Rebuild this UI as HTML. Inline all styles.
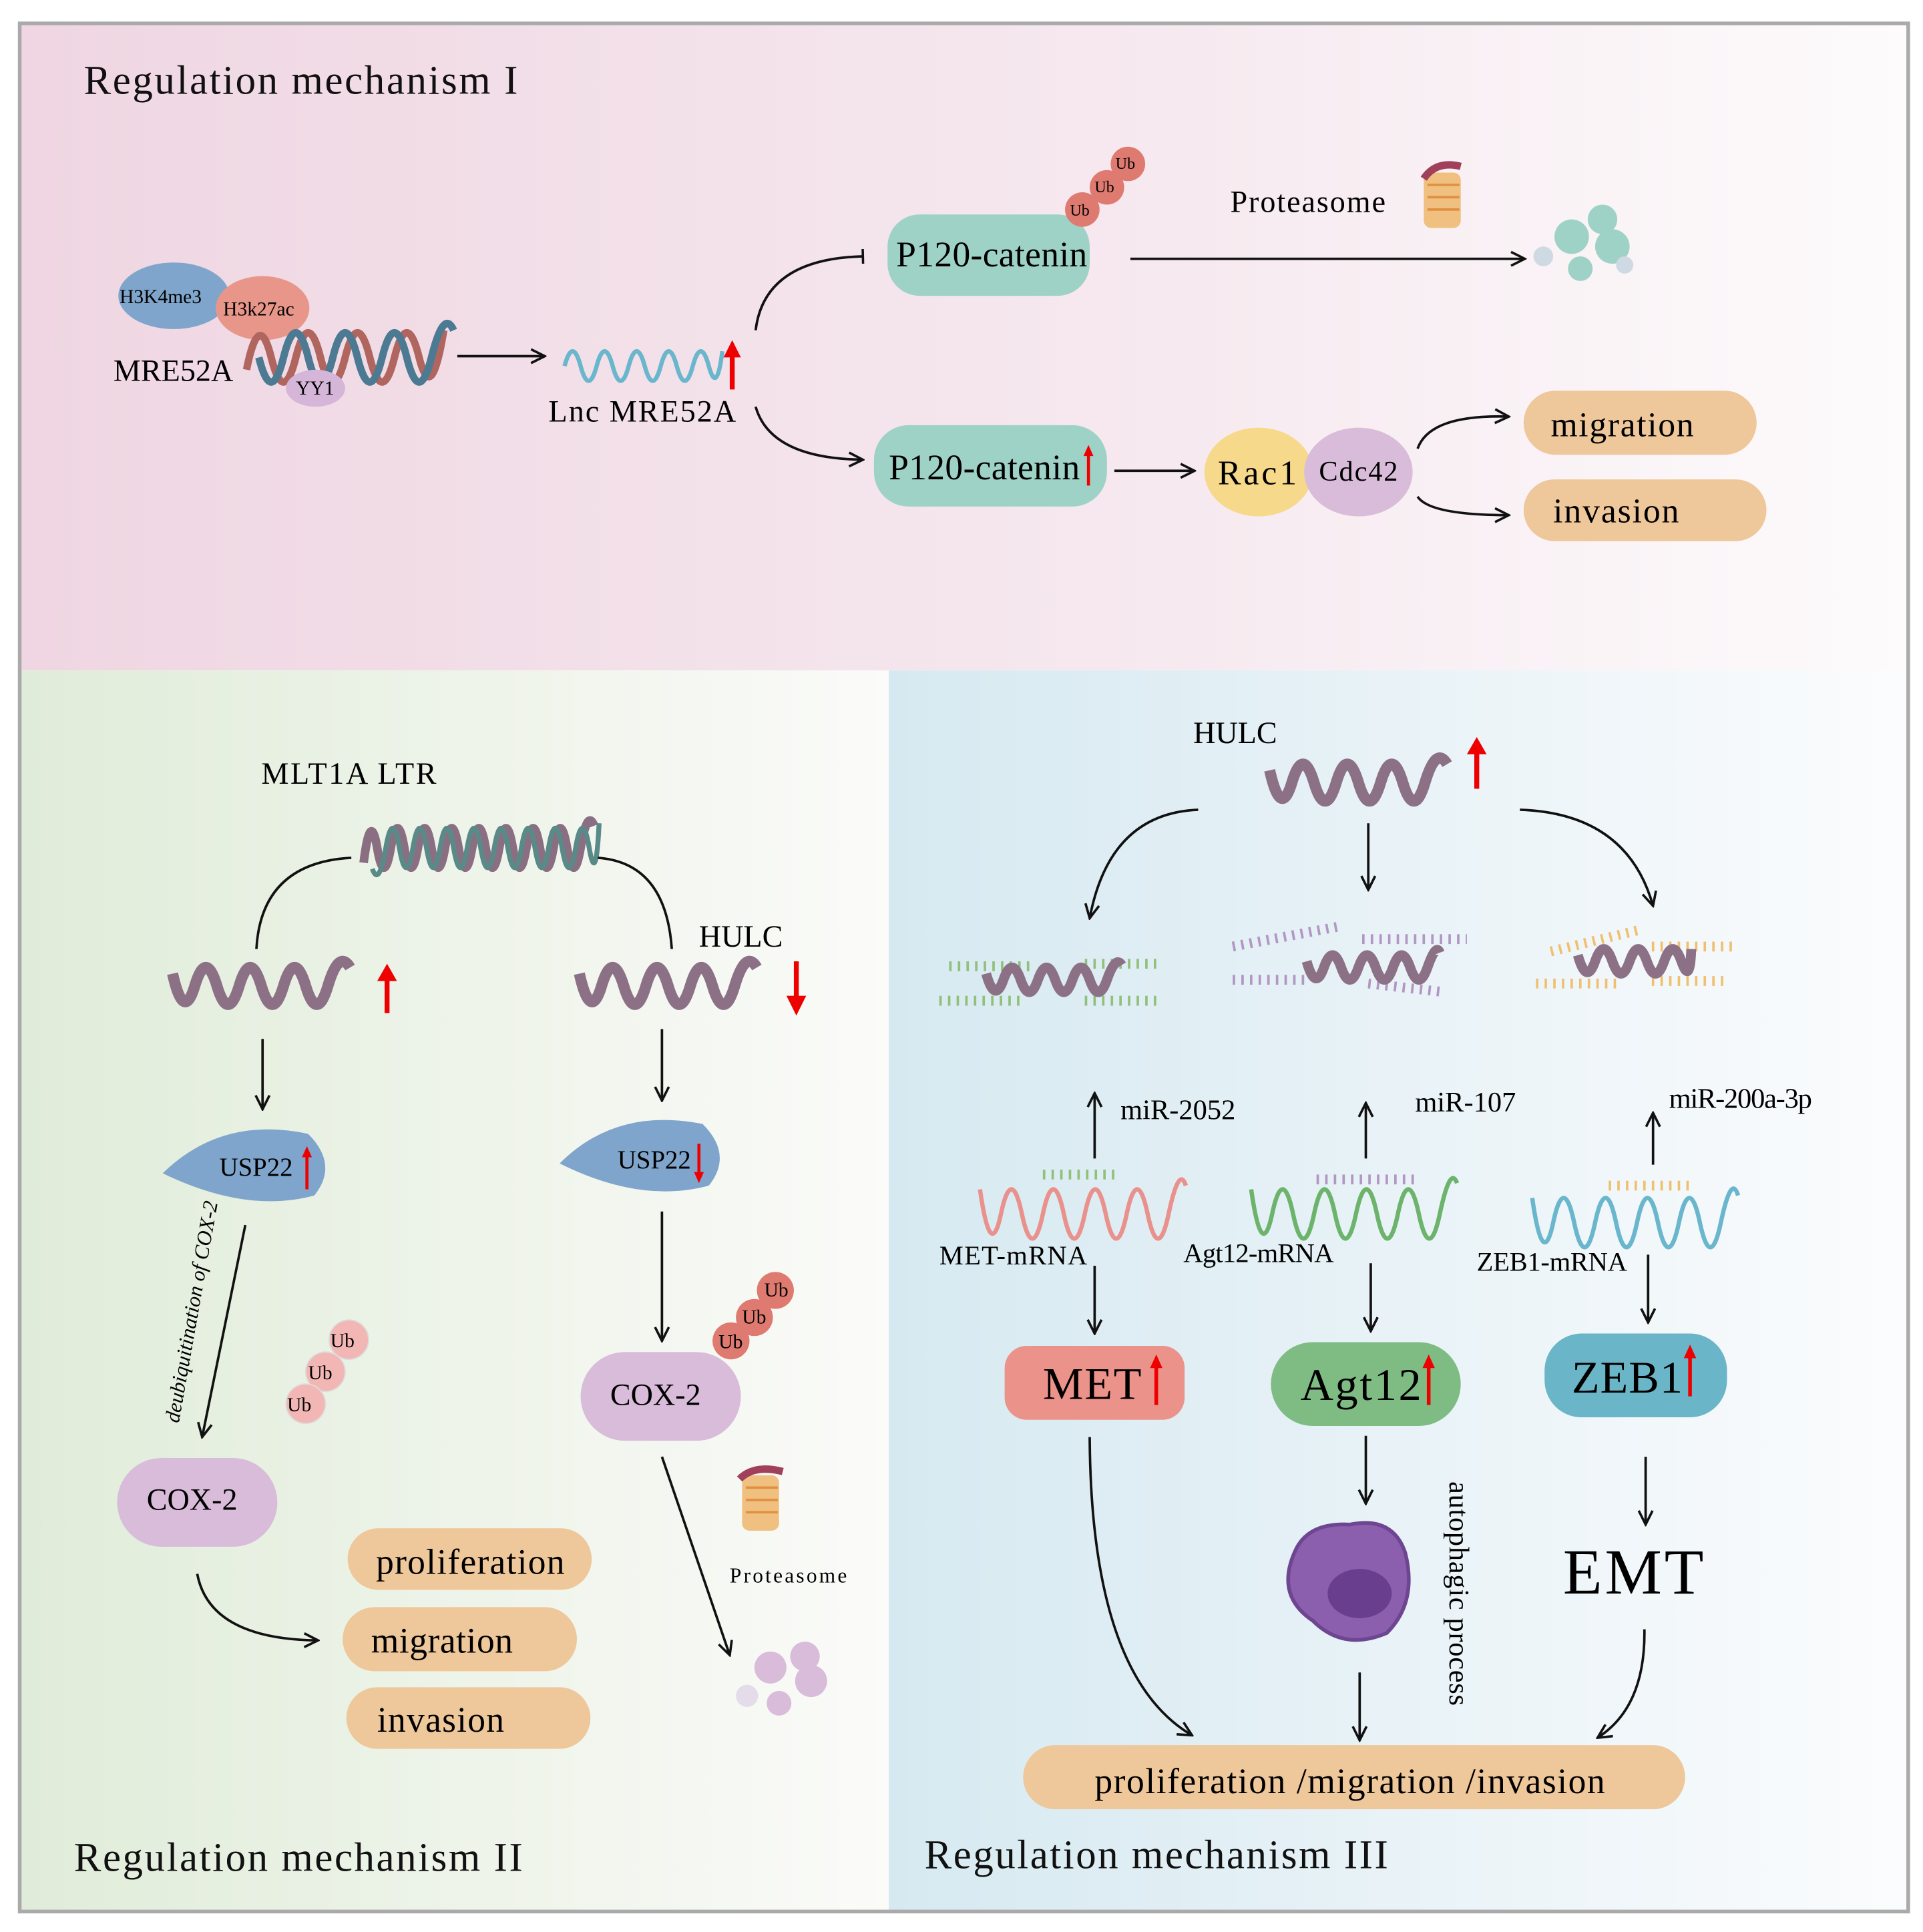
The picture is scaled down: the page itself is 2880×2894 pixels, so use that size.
<!DOCTYPE html>
<html><head><style>html,body{margin:0;padding:0;background:#fff}svg{display:block}svg text{font-family:"Liberation Serif","DejaVu Serif",serif}</style></head>
<body>
<svg width="2880" height="2894" viewBox="0 0 1560 1567.6" preserveAspectRatio="none" xmlns="http://www.w3.org/2000/svg">
<defs>
<linearGradient id="gp" x1="0" x2="1" y1="0" y2="0"><stop offset="0" stop-color="#efd6e2"/><stop offset="0.6" stop-color="#f6e9ef"/><stop offset="1" stop-color="#fdfbfc"/></linearGradient>
<linearGradient id="gg" x1="0" x2="1"><stop offset="0" stop-color="#e0ecd9"/><stop offset="1" stop-color="#fbfbf9"/></linearGradient>
<linearGradient id="gb" x1="0" x2="1"><stop offset="0" stop-color="#d6e9f1"/><stop offset="1" stop-color="#fbfcfd"/></linearGradient>
<marker id="a" viewBox="0 0 10 10" refX="9" refY="5" markerWidth="7" markerHeight="7" orient="auto"><path d="M1 1L9 5L1 9" fill="none" stroke="#111" stroke-width="1.4"/></marker>
<marker id="t" viewBox="0 0 10 10" refX="5" refY="5" markerWidth="6" markerHeight="6" orient="auto"><path d="M5 0V10" stroke="#111" stroke-width="1.6"/></marker>
</defs>
<rect x="0" y="0" width="1560" height="1568" fill="#fff"/>
<rect x="17" y="20" width="1530" height="524" fill="url(#gp)"/>
<rect x="17" y="544" width="704" height="1006" fill="url(#gg)"/>
<rect x="721" y="544" width="826" height="1006" fill="url(#gb)"/>
<rect x="16" y="19" width="1532" height="1532" fill="none" stroke="#aaa" stroke-width="3"/>

<g fill="#111" font-size="33">
<text x="68" y="76" textLength="352">Regulation mechanism I</text>
<text x="60" y="1518" textLength="364">Regulation mechanism II</text>
<text x="750" y="1516" textLength="376">Regulation mechanism III</text>
</g>

<!-- Panel I -->
<ellipse cx="141" cy="240" rx="45" ry="27" fill="#7fa5cc"/>
<ellipse cx="213" cy="250" rx="38" ry="26" fill="#e8968a"/>
<path d="M200 300 Q210 250 220 290 T240 290 T260 290 T280 290 T300 290 T320 290 T340 290 T360 268" fill="none" stroke="#b0665e" stroke-width="6"/>
<path d="M210 290 Q220 330 230 290 T250 290 T270 290 T290 290 T310 290 T330 290 T350 290 T368 268" fill="none" stroke="#4c7a93" stroke-width="6"/>
<ellipse cx="256" cy="315" rx="24" ry="15" fill="#d5b5d8"/>
<g font-size="16"><text x="97" y="246">H3K4me3</text><text x="181" y="256">H3k27ac</text><text x="240" y="320">YY1</text></g>
<text x="92" y="309" font-size="25">MRE52A</text>
<path d="M371 289H442" stroke="#111" stroke-width="2" marker-end="url(#a)"/>
<path d="M458 297 Q464.5 273 471 297 T484 297 T497 297 T510 297 T523 297 T536 297 T549 297 T562 297 T575 297 T586 285" fill="none" stroke="#6ab6cc" stroke-width="3.5"/>
<path d="M594 316V284" stroke="#e00" stroke-width="4"/><path d="M587 290L594 276L601 290Z" fill="#e00"/>
<text x="445" y="342" font-size="25" textLength="152">Lnc MRE52A</text>
<path d="M613 268 Q620 210 700 208" fill="none" stroke="#111" stroke-width="2" marker-end="url(#t)"/>
<path d="M613 330 Q625 372 700 373" fill="none" stroke="#111" stroke-width="2" marker-end="url(#a)"/>
<rect x="720" y="174" width="164" height="66" rx="26" fill="#9fd2c6"/>
<text x="727" y="216" font-size="29" textLength="155">P120-catenin</text>
<g font-size="13"><circle cx="915" cy="133" r="14" fill="#df7a70"/><circle cx="898" cy="152" r="14" fill="#df7a70"/><circle cx="878" cy="170" r="14" fill="#df7a70"/>
<text x="905" y="137">Ub</text><text x="888" y="156">Ub</text><text x="868" y="175">Ub</text></g>
<text x="998" y="172" font-size="25" textLength="126">Proteasome</text>
<g><rect x="1155" y="140" width="30" height="45" rx="6" fill="#f0c080"/><path d="M1158 150h26M1158 160h26M1158 170h26" stroke="#e09040" stroke-width="2"/><path d="M1155 145q10-15 30-10" stroke="#a0405a" stroke-width="6" fill="none"/></g>
<path d="M917 210H1237" stroke="#111" stroke-width="2" marker-end="url(#a)"/>
<g fill="#9fd2c6"><circle cx="1275" cy="192" r="14"/><circle cx="1300" cy="178" r="12"/><circle cx="1308" cy="200" r="14"/><circle cx="1282" cy="218" r="10"/></g>
<g fill="#cfd9e4"><circle cx="1252" cy="208" r="8"/><circle cx="1318" cy="215" r="7"/></g>
<rect x="709" y="345" width="189" height="66" rx="28" fill="#9fd2c6"/>
<text x="721" y="389" font-size="29" textLength="155">P120-catenin</text>
<path d="M883 394V366" stroke="#e00" stroke-width="2.5"/><path d="M879 370L883 361L887 370Z" fill="#e00"/>
<path d="M904 382H969" stroke="#111" stroke-width="2" marker-end="url(#a)"/>
<ellipse cx="1021" cy="383" rx="44" ry="36" fill="#f6d98a"/>
<ellipse cx="1102" cy="383" rx="44" ry="36" fill="#d9bcda"/>
<text x="988" y="393" font-size="28" textLength="64">Rac1</text><text x="1070" y="390" font-size="23" textLength="64">Cdc42</text>
<path d="M1150 364 Q1160 336 1224 338" fill="none" stroke="#111" stroke-width="2" marker-end="url(#a)"/>
<path d="M1150 403 Q1160 418 1224 418" fill="none" stroke="#111" stroke-width="2" marker-end="url(#a)"/>
<rect x="1236" y="317" width="189" height="52" rx="26" fill="#eec79a"/>
<rect x="1236" y="389" width="197" height="50" rx="25" fill="#eec79a"/>
<text x="1258" y="354" font-size="28" textLength="116">migration</text><text x="1260" y="424" font-size="28" textLength="102">invasion</text>

<!-- Panel II -->
<text x="212" y="636" font-size="25" textLength="142">MLT1A LTR</text>
<path d="M295 700 Q300.5 656 306 688 T317 688 T328 688 T339 688 T350 688 T361 688 T372 688 T383 688 T394 688 T405 688 T416 688 T427 688 T438 688 T449 688 T460 688 T471 688 T482 670" fill="none" stroke="#8a6f82" stroke-width="7"/>
<path d="M302 705 Q307.5 720 313 688 T324 688 T335 688 T346 688 T357 688 T368 688 T379 688 T390 688 T401 688 T412 688 T423 688 T434 688 T445 688 T456 688 T467 688 T478 688 T486 668" fill="none" stroke="#5a8a88" stroke-width="4"/>
<path d="M208 770 Q212 700 285 696" fill="none" stroke="#111" stroke-width="2"/>
<path d="M545 770 Q540 700 485 696" fill="none" stroke="#111" stroke-width="2"/>
<g fill="none" stroke-width="9" stroke="#8c7186">
<path d="M140 790 Q149 830 158 800 T176 800 T194 800 T212 800 T230 800 T248 800 T266 800 T284 785"/>
<path d="M470 790 Q479 830 488 800 T506 800 T524 800 T542 800 T560 800 T578 800 T596 800 T614 785"/>
<path d="M1030 625 Q1039 665 1048 635 T1066 635 T1084 635 T1102 635 T1120 635 T1138 635 T1156 635 T1174 620"/>
</g>
<path d="M314 822V792" stroke="#e00" stroke-width="4"/><path d="M306 796L314 782L322 796Z" fill="#e00"/>
<path d="M646 780V812" stroke="#e00" stroke-width="4"/><path d="M638 808L646 824L654 808Z" fill="#e00"/>
<path d="M1198 640V608" stroke="#e00" stroke-width="4"/><path d="M1190 612L1198 598L1206 612Z" fill="#e00"/>
<text x="567" y="768" font-size="25">HULC</text>
<path d="M213 843V900" stroke="#111" stroke-width="2" marker-end="url(#a)"/>
<path d="M537 835V893" stroke="#111" stroke-width="2" marker-end="url(#a)"/>
<path d="M132 952 Q180 905 250 920 Q275 945 255 970 Q200 985 132 952Z" fill="#7fa5cc"/>
<path d="M454 944 Q500 898 570 912 Q595 937 575 962 Q520 977 454 944Z" fill="#7fa5cc"/>
<text x="178" y="954" font-size="21">USP22</text><text x="501" y="948" font-size="21">USP22</text>
<path d="M249 965V935" stroke="#e00" stroke-width="2.5"/><path d="M245 939L249 930L253 939Z" fill="#e00"/>
<path d="M567 928V955" stroke="#e00" stroke-width="2.5"/><path d="M563 951L567 960L571 951Z" fill="#e00"/>
<path d="M199 994L164 1166" stroke="#111" stroke-width="2" marker-end="url(#a)"/>
<text transform="translate(145,1155) rotate(-80)" font-size="17" font-style="italic">deubiquitination of COX-2</text>
<g font-size="16"><circle cx="283" cy="1087" r="16" fill="#f2b7b4" stroke="#ddd"/><circle cx="264" cy="1113" r="16" fill="#f2b7b4" stroke="#ddd"/><circle cx="248" cy="1139" r="16" fill="#f2b7b4" stroke="#ddd"/>
<text x="268" y="1093">Ub</text><text x="250" y="1119">Ub</text><text x="233" y="1145">Ub</text></g>
<path d="M537 983V1088" stroke="#111" stroke-width="2" marker-end="url(#a)"/>
<g font-size="16"><circle cx="629" cy="1047" r="15" fill="#df7a70"/><circle cx="612" cy="1069" r="15" fill="#df7a70"/><circle cx="593" cy="1088" r="15" fill="#df7a70"/>
<text x="620" y="1052">Ub</text><text x="602" y="1074">Ub</text><text x="583" y="1094">Ub</text></g>
<rect x="471" y="1097" width="130" height="72" rx="36" fill="#d9bcda"/>
<text x="495" y="1140" font-size="25">COX-2</text>
<rect x="95" y="1183" width="130" height="72" rx="36" fill="#d9bcda"/>
<text x="119" y="1225" font-size="25">COX-2</text>
<g><rect x="602" y="1197" width="30" height="45" rx="6" fill="#f0c080"/><path d="M605 1207h26M605 1217h26M605 1227h26" stroke="#e09040" stroke-width="2"/><path d="M600 1200q12-12 35-6" stroke="#a0405a" stroke-width="6" fill="none"/></g>
<text x="592" y="1284" font-size="17" textLength="95">Proteasome</text>
<path d="M537 1182L592 1343" stroke="#111" stroke-width="2" marker-end="url(#a)"/>
<g fill="#d9bcda"><circle cx="625" cy="1353" r="13"/><circle cx="653" cy="1344" r="12"/><circle cx="658" cy="1364" r="13"/><circle cx="632" cy="1382" r="10"/><circle cx="606" cy="1376" r="9" fill="#e5dcea"/></g>
<path d="M160 1277 Q170 1330 258 1331" fill="none" stroke="#111" stroke-width="2" marker-end="url(#a)"/>
<rect x="282" y="1240" width="198" height="50" rx="25" fill="#eec79a"/>
<rect x="278" y="1304" width="190" height="52" rx="26" fill="#eec79a"/>
<rect x="281" y="1369" width="198" height="50" rx="25" fill="#eec79a"/>
<text x="305" y="1277" font-size="29" textLength="153">proliferation</text>
<text x="301" y="1341" font-size="29" textLength="115">migration</text>
<text x="306" y="1405" font-size="29" textLength="103">invasion</text>

<!-- Panel III -->
<text x="968" y="603" font-size="25">HULC</text>
<path d="M972 657 Q900 660 884 745" fill="none" stroke="#111" stroke-width="2" marker-end="url(#a)"/>
<path d="M1110 668V722" stroke="#111" stroke-width="2" marker-end="url(#a)"/>
<path d="M1233 657 Q1320 660 1341 735" fill="none" stroke="#111" stroke-width="2" marker-end="url(#a)"/>
<g stroke-width="8" stroke-dasharray="2 5" fill="none">
<path d="M762 812H830M880 812H938M770 784H835M880 782H940" stroke="#90c07a"/>
<path d="M1000 768L1085 752M1105 762H1190M1000 795H1060M1110 798L1172 805" stroke="#b296c4"/>
<path d="M1258 772L1328 755M1340 768H1410M1246 798H1316M1340 796H1398" stroke="#f0c070"/>
</g>
<g fill="none" stroke-width="8" stroke="#8c7186">
<path d="M800 790 Q807 815 814 795 T828 795 T842 795 T856 795 T870 795 T884 795 T898 795 T910 783"/>
<path d="M1060 780 Q1067 805 1074 785 T1088 785 T1102 785 T1116 785 T1130 785 T1144 785 T1158 785 T1168 773"/>
<path d="M1280 775 Q1287 800 1294 780 T1308 780 T1322 780 T1336 780 T1350 780 T1364 780 T1372 770"/>
</g>
<path d="M888 940V887" stroke="#111" stroke-width="2" marker-end="url(#a)"/>
<path d="M1108 940V895" stroke="#111" stroke-width="2" marker-end="url(#a)"/>
<path d="M1341 945V903" stroke="#111" stroke-width="2" marker-end="url(#a)"/>
<g font-size="23"><text x="909" y="908">miR-2052</text><text x="1148" y="902">miR-107</text><text x="1354" y="899" textLength="116">miR-200a-3p</text></g>
<g stroke-width="8" stroke-dasharray="2 5"><path d="M846 953H906" stroke="#90c07a"/><path d="M1068 957H1150" stroke="#b296c4"/><path d="M1305 962H1375" stroke="#f0c070"/></g>
<g fill="none" stroke-width="3.5">
<path d="M795 965 Q803.5 1025 812 985 T829 985 T846 985 T863 985 T880 985 T897 985 T914 985 T931 985 T948 985 T962 962" stroke="#e9918d"/>
<path d="M1015 965 Q1023.5 1025 1032 985 T1049 985 T1066 985 T1083 985 T1100 985 T1117 985 T1134 985 T1151 985 T1168 985 T1182 960" stroke="#6cb46c"/>
<path d="M1243 972 Q1251.5 1032 1260 992 T1277 992 T1294 992 T1311 992 T1328 992 T1345 992 T1362 992 T1379 992 T1396 992 T1410 970" stroke="#6ab6cc"/>
</g>
<g font-size="22"><text x="762" y="1026" textLength="120">MET-mRNA</text><text x="960" y="1024" textLength="122">Agt12-mRNA</text><text x="1198" y="1031" textLength="122">ZEB1-mRNA</text></g>
<path d="M888 1027V1082" stroke="#111" stroke-width="2" marker-end="url(#a)"/>
<path d="M1112 1025V1080" stroke="#111" stroke-width="2" marker-end="url(#a)"/>
<path d="M1337 1018V1073" stroke="#111" stroke-width="2" marker-end="url(#a)"/>
<rect x="815" y="1092" width="146" height="60" rx="18" fill="#eb938b"/>
<rect x="1031" y="1089" width="154" height="68" rx="34" fill="#7ebc83"/>
<rect x="1253" y="1082" width="148" height="68" rx="30" fill="#6ab5c7"/>
<g font-size="37"><text x="846" y="1135" textLength="80">MET</text><text x="1055" y="1136" textLength="98">Agt12</text><text x="1275" y="1130" textLength="90">ZEB1</text></g>
<g stroke="#e00" stroke-width="3"><path d="M938 1140V1108"/><path d="M1159 1140V1108"/><path d="M1371 1133V1100"/></g>
<g fill="#e00"><path d="M933 1110L938 1099L943 1110Z"/><path d="M1154 1110L1159 1099L1164 1110Z"/><path d="M1366 1102L1371 1091L1376 1102Z"/></g>
<path d="M1108 1165V1220" stroke="#111" stroke-width="2" marker-end="url(#a)"/>
<path d="M1335 1182V1237" stroke="#111" stroke-width="2" marker-end="url(#a)"/>
<path d="M1050 1260 Q1060 1235 1095 1237 Q1130 1230 1140 1260 Q1150 1300 1125 1325 Q1090 1340 1065 1315 Q1035 1295 1050 1260Z" fill="#8c5fae" stroke="#6e4590" stroke-width="3"/>
<ellipse cx="1103" cy="1293" rx="26" ry="20" fill="#6a3e8e"/>
<text transform="translate(1176,1202) rotate(90)" font-size="23" textLength="182">autophagic process</text>
<text x="1268" y="1293" font-size="52" textLength="114">EMT</text>
<path d="M884 1166 Q885 1360 967 1408" fill="none" stroke="#111" stroke-width="2" marker-end="url(#a)"/>
<path d="M1103 1357V1412" stroke="#111" stroke-width="2" marker-end="url(#a)"/>
<path d="M1334 1322 Q1335 1385 1296 1410" fill="none" stroke="#111" stroke-width="2" marker-end="url(#a)"/>
<rect x="830" y="1416" width="537" height="52" rx="26" fill="#eec79a"/>
<text x="888" y="1455" font-size="29" textLength="414">proliferation /migration /invasion</text>
</svg>
</body></html>
